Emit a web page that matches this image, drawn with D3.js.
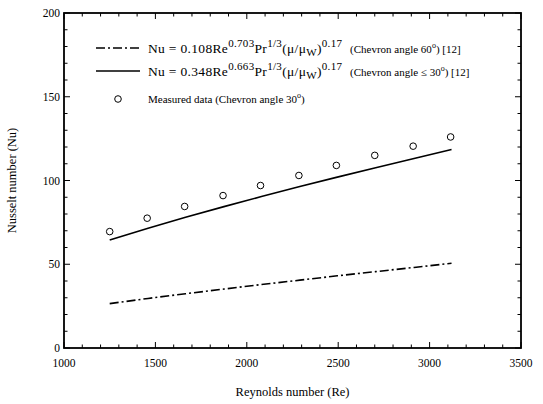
<!DOCTYPE html>
<html>
<head>
<meta charset="utf-8">
<script src="https://cdn.jsdelivr.net/npm/d3@7/dist/d3.min.js"></script>
<style>
  html, body { margin: 0; padding: 0; background: #fff; }
  svg { display: block; }
  text { font-family: "Liberation Serif", "Times New Roman", serif; fill: #000; }
</style>
</head>
<body>
<div id="chart"></div>
<script>
// ---- data ----
const reMeasured = [1250, 1455, 1660, 1870, 2075, 2285, 2490, 2700, 2910, 3115];
const nuMeasured = [69.5, 77.5, 84.5, 91, 97, 103, 109, 115, 120.5, 126];
const reCorr = [1250, 1460, 1665, 1875, 2080, 2290, 2495, 2705, 2915, 3120];
const nuCorr30 = [64.5, 71.5, 78, 84.4, 90.4, 96.4, 102, 107.6, 113.1, 118.5];
const nuCorr60 = [26.5, 29.6, 32.4, 35.2, 37.9, 40.5, 43.1, 45.6, 48.1, 50.6];
const xTicks = [1000, 1500, 2000, 2500, 3000, 3500];
const yTicks = [0, 50, 100, 150, 200];

const W = 543, H = 404;
const m = { left: 64, right: 22, top: 13, bottom: 56 };
const svg = d3.select("#chart").append("svg").attr("width", W).attr("height", H);

const x = d3.scaleLinear().domain([1000, 3500]).range([m.left, W - m.right]);
const y = d3.scaleLinear().domain([0, 200]).range([H - m.bottom, m.top]);

const g = svg.append("g");
const x0 = x.range()[0], x1 = x.range()[1], y0 = y.range()[0], y1 = y.range()[1];

// minor and major ticks (inward, all sides)
const xMinor = d3.range(1000, 3501, 100);
const yMinor = d3.range(0, 201, 10);
function tickLen(isMajor) { return isMajor ? 6 : 3.5; }
xMinor.forEach(v => {
  const major = v % 500 === 0;
  const L = tickLen(major);
  g.append("line").attr("x1", x(v)).attr("x2", x(v)).attr("y1", y0).attr("y2", y0 - L).attr("stroke", "#000").attr("stroke-width", 1);
  g.append("line").attr("x1", x(v)).attr("x2", x(v)).attr("y1", y1).attr("y2", y1 + L).attr("stroke", "#000").attr("stroke-width", 1);
});
yMinor.forEach(v => {
  const major = v % 50 === 0;
  const L = tickLen(major);
  g.append("line").attr("y1", y(v)).attr("y2", y(v)).attr("x1", x0).attr("x2", x0 + L).attr("stroke", "#000").attr("stroke-width", 1);
  g.append("line").attr("y1", y(v)).attr("y2", y(v)).attr("x1", x1).attr("x2", x1 - L).attr("stroke", "#000").attr("stroke-width", 1);
});

// frame
g.append("rect").attr("x", x0).attr("y", y1).attr("width", x1 - x0).attr("height", y0 - y1)
  .attr("fill", "none").attr("stroke", "#000").attr("stroke-width", 1.8);

// tick labels
svg.append("g").selectAll("text").data(xTicks).join("text")
  .attr("x", d => x(d)).attr("y", y0 + 19).attr("text-anchor", "middle")
  .attr("font-size", 11.5).text(d => d);
svg.append("g").selectAll("text").data(yTicks).join("text")
  .attr("x", x0 - 4).attr("y", d => y(d) + 4).attr("text-anchor", "end")
  .attr("font-size", 11.5).text(d => d);

// axis titles
svg.append("text").attr("x", (x0 + x1) / 2).attr("y", 396).attr("text-anchor", "middle")
  .attr("font-size", 12.5).text("Reynolds number (Re)");
svg.append("text").attr("transform", `translate(16,${(y0 + y1) / 2}) rotate(-90)`)
  .attr("text-anchor", "middle").attr("font-size", 12.5).text("Nusselt number (Nu)");

// lines
const dashDot = "9,3,2,3";
const line = d3.line().x(d => x(d[0])).y(d => y(d[1]));
svg.append("path").datum(reCorr.map((r, i) => [r, nuCorr60[i]])).attr("d", line)
  .attr("fill", "none").attr("stroke", "#000").attr("stroke-width", 1.6).attr("stroke-dasharray", dashDot);
svg.append("path").datum(reCorr.map((r, i) => [r, nuCorr30[i]])).attr("d", line)
  .attr("fill", "none").attr("stroke", "#000").attr("stroke-width", 1.6);

// points
svg.append("g").selectAll("circle").data(reMeasured.map((r, i) => [r, nuMeasured[i]])).join("circle")
  .attr("cx", d => x(d[0])).attr("cy", d => y(d[1])).attr("r", 3.3)
  .attr("fill", "#fff").attr("stroke", "#000").attr("stroke-width", 1);

// legend
const lg = svg.append("g");
lg.append("line").attr("x1", 96).attr("x2", 140).attr("y1", 48).attr("y2", 48)
  .attr("stroke", "#000").attr("stroke-width", 1.6).attr("stroke-dasharray", dashDot);
lg.append("line").attr("x1", 96).attr("x2", 140).attr("y1", 71).attr("y2", 71)
  .attr("stroke", "#000").attr("stroke-width", 1.6);
lg.append("circle").attr("cx", 118).attr("cy", 99).attr("r", 3.3)
  .attr("fill", "#fff").attr("stroke", "#000").attr("stroke-width", 1);

function richText(xPos, yPos, fs, sup, parts) {
  const t = lg.append("text").attr("x", xPos).attr("y", yPos).attr("font-size", fs);
  let cur = 0;
  parts.forEach(p => {
    const small = !!p.t;
    const target = p.t === "sup" ? -Math.round(fs * 0.42) : p.t === "sub" ? 3 : 0;
    t.append("tspan").attr("dy", target - cur).attr("font-size", small ? sup : fs).text(p.s);
    cur = target;
  });
  return t;
}
function legendRow(yPos, formula, desc) {
  const f = richText(148, yPos, 13.5, 11, formula);
  f.attr("textLength", 194).attr("lengthAdjust", "spacing");
  richText(350, yPos, 11, 8, desc);
}
legendRow(52.5, [
  { s: "Nu = 0.108Re" }, { s: "0.703", t: "sup" }, { s: "Pr" }, { s: "1/3", t: "sup" },
  { s: "(μ/μ" }, { s: "W", t: "sub" }, { s: ")" }, { s: "0.17", t: "sup" }
], [
  { s: "(Chevron angle 60" }, { s: "o", t: "sup" }, { s: ") [12]" }
]);
legendRow(75.5, [
  { s: "Nu = 0.348Re" }, { s: "0.663", t: "sup" }, { s: "Pr" }, { s: "1/3", t: "sup" },
  { s: "(μ/μ" }, { s: "W", t: "sub" }, { s: ")" }, { s: "0.17", t: "sup" }
], [
  { s: "(Chevron angle ≤  30" }, { s: "o", t: "sup" }, { s: ") [12]" }
]);
richText(148, 103, 11, 8, [
  { s: "Measured data (Chevron angle 30" }, { s: "o", t: "sup" }, { s: ")" }
]);
</script>
</body>
</html>
